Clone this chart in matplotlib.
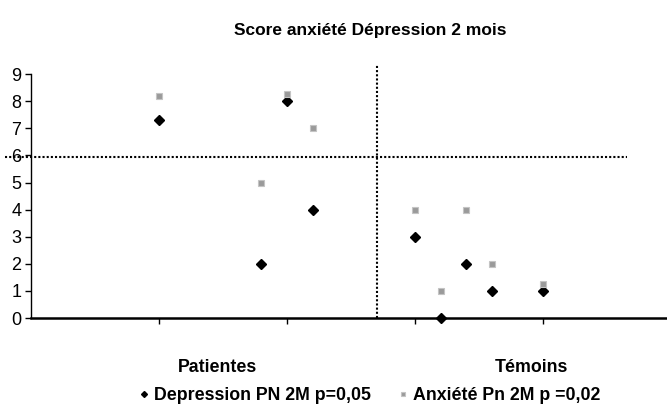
import matplotlib
matplotlib.use("Agg")
import matplotlib.pyplot as plt
from matplotlib.transforms import blended_transform_factory

# Data
dep_x = [1.0, 1.8, 2.0, 2.2, 3.0, 3.2, 3.4, 3.6, 4.0]
dep_y = [7.3, 2.0, 8.0, 4.0, 3.0, 0.0, 2.0, 1.0, 1.0]
anx_x = [1.0, 1.8, 2.0, 2.2, 3.0, 3.2, 3.4, 3.6, 4.0]
anx_y = [8.2, 5.0, 8.25, 7.0, 4.0, 1.0, 4.0, 2.0, 1.25]
categories = ["Patientes", "Témoins"]
category_pos = [1.46, 3.91]
threshold_y = 5.93
threshold_x = 2.70
yticks = list(range(0, 10))
xticks = [1, 2, 3, 4]
title = "Score anxiété Dépression 2 mois"
labels = ["Depression PN 2M p=0,05", "Anxiété Pn 2M p =0,02"]

plt.rcParams['font.family'] = ['Liberation Sans', 'DejaVu Sans']

fig = plt.figure(figsize=(6.67, 4.12), dpi=100)
ax = fig.add_axes([0.0465, 0.228, 0.9535, 0.592])

ax.plot(dep_x, dep_y, linestyle='none', marker='D', markersize=5,
        color='black', clip_on=False, zorder=3, label=labels[0])
ax.plot(anx_x, anx_y, linestyle='none', marker='s', markersize=5,
        markerfacecolor='#9a9a9a', markeredgecolor='#c4c4c4', markeredgewidth=0.8,
        clip_on=False, zorder=3, label=labels[1])

ax.plot([-0.2, 4.66], [threshold_y, threshold_y], color='black', linestyle=(0, (1, 1)),
        linewidth=1.5, clip_on=False, zorder=2)
ax.plot([threshold_x, threshold_x], [0, 9.37], color='black', linestyle=(0, (1, 1)),
        linewidth=1.5, clip_on=False, zorder=2)

ax.set_xlim(0, 4.97)
ax.set_ylim(0, 9)
ax.set_yticks(yticks)
ax.set_yticklabels([str(v) for v in yticks], fontsize=13)
ax.set_xticks(xticks)
ax.set_xticklabels([])
ax.tick_params(axis='y', direction='out', length=4, width=1, pad=3)
ax.tick_params(axis='x', direction='out', length=4, width=1)
for s in ['top', 'right']:
    ax.spines[s].set_visible(False)
ax.spines['left'].set_linewidth(1.0)
ax.spines['bottom'].set_linewidth(1.8)

trans = blended_transform_factory(ax.transData, fig.transFigure)
for name, xp in zip(categories, category_pos):
    ax.text(xp, 1 - 367 / 412, name, transform=trans, ha='center', va='center',
            fontsize=12.8, fontweight='bold')

fig.text(370 / 667, 1 - 31 / 412, title, ha='center', va='center',
         fontsize=12.5, fontweight='bold')

leg = fig.legend(loc='center', bbox_to_anchor=(370 / 667, 1 - 396 / 412), ncol=2,
                 frameon=False, prop={'weight': 'bold', 'size': 12.8},
                 handlelength=0.5, handletextpad=0.3, columnspacing=1.6,
                 markerscale=0.6)

fig.savefig("out.png", dpi=100)
